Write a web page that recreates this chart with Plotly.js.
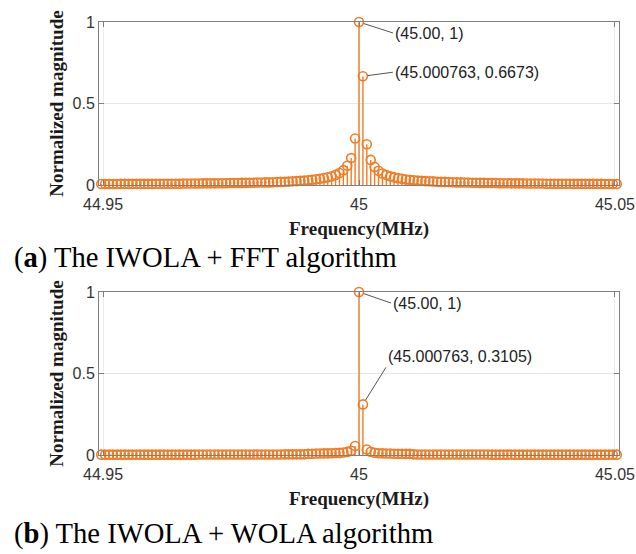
<!DOCTYPE html>
<html>
<head>
<meta charset="utf-8">
<script src="https://cdn.plot.ly/plotly-3.0.1.min.js"></script>
<style>
  html, body { margin: 0; padding: 0; background: #ffffff; }
  #chart { width: 636px; height: 554px; }
</style>
</head>
<body>
<div id="chart"></div>
<script>
// FFT bin grid: centre frequency and bin spacing (MHz)
const centreFreq = 45.0;
const binStep = 0.000763;
const binLo = -66;
const binHi = 66;

// Normalized magnitude of each bin, lowest bin first (IWOLA + FFT)
const magFFT = [
  0.006, 0.006, 0.006, 0.006, 0.006, 0.007, 0.007, 0.007, 0.007, 0.007,
  0.007, 0.007, 0.007, 0.007, 0.008, 0.008, 0.008, 0.008, 0.008, 0.008,
  0.008, 0.009, 0.009, 0.009, 0.009, 0.009, 0.010, 0.010, 0.010, 0.010,
  0.011, 0.011, 0.011, 0.012, 0.012, 0.012, 0.013, 0.013, 0.014, 0.014,
  0.015, 0.015, 0.016, 0.016, 0.017, 0.018, 0.019, 0.020, 0.021, 0.023,
  0.024, 0.026, 0.027, 0.029, 0.032, 0.035, 0.038, 0.043, 0.048, 0.054,
  0.062, 0.074, 0.091, 0.118, 0.165, 0.285,
  1,
  0.6673, 0.250, 0.154, 0.111, 0.087, 0.071, 0.061, 0.053, 0.047, 0.042,
  0.038, 0.034, 0.032, 0.029, 0.027, 0.026, 0.024, 0.023, 0.022, 0.020,
  0.019, 0.019, 0.018, 0.017, 0.016, 0.016, 0.015, 0.015, 0.014, 0.014,
  0.013, 0.013, 0.012, 0.012, 0.012, 0.011, 0.011, 0.011, 0.010, 0.010,
  0.010, 0.010, 0.009, 0.009, 0.009, 0.009, 0.009, 0.008, 0.008, 0.008,
  0.008, 0.008, 0.008, 0.008, 0.007, 0.007, 0.007, 0.007, 0.007, 0.007,
  0.007, 0.007, 0.006, 0.006, 0.006, 0.006
];

// Normalized magnitude of each bin, lowest bin first (IWOLA + WOLA)
const magWOLA = [
  0.002, 0.002, 0.002, 0.002, 0.002, 0.002, 0.002, 0.002, 0.002, 0.002,
  0.002, 0.002, 0.002, 0.002, 0.002, 0.002, 0.002, 0.002, 0.002, 0.002,
  0.002, 0.002, 0.002, 0.002, 0.002, 0.003, 0.003, 0.003, 0.003, 0.003,
  0.003, 0.003, 0.003, 0.003, 0.003, 0.003, 0.003, 0.003, 0.003, 0.003,
  0.003, 0.003, 0.003, 0.003, 0.003, 0.003, 0.003, 0.004, 0.004, 0.004,
  0.004, 0.004, 0.004, 0.008, 0.008, 0.009, 0.009, 0.010, 0.010, 0.011,
  0.012, 0.013, 0.015, 0.019, 0.026, 0.055,
  1,
  0.3105, 0.034, 0.020, 0.014, 0.011, 0.010, 0.009, 0.009, 0.008, 0.008,
  0.008, 0.007, 0.007, 0.004, 0.003, 0.003, 0.003, 0.003, 0.003, 0.003,
  0.003, 0.003, 0.003, 0.003, 0.003, 0.003, 0.003, 0.003, 0.003, 0.003,
  0.003, 0.003, 0.003, 0.002, 0.002, 0.002, 0.002, 0.002, 0.002, 0.002,
  0.002, 0.002, 0.002, 0.002, 0.002, 0.002, 0.002, 0.002, 0.002, 0.002,
  0.002, 0.002, 0.002, 0.002, 0.002, 0.002, 0.002, 0.002, 0.002, 0.002,
  0.002, 0.002, 0.002, 0.002, 0.002, 0.002
];

// Axis ticks
const xTickVals = [44.95, 45, 45.05];
const xTickText = ['44.95', '45', '45.05'];
const yTickVals = [0, 0.5, 1];
const yTickText = ['0', '0.5', '1'];

// Panel captions
const captionA = '(<b>a</b>) The IWOLA + FFT algorithm';
const captionB = '(<b>b</b>) The IWOLA + WOLA algorithm';

// Frequency of every bin
const freq = [];
for (let k = binLo; k <= binHi; k++) {
  freq.push(+(centreFreq + k * binStep).toFixed(6));
}
const peakIdx = -binLo;        // bin at the centre frequency
const nextIdx = peakIdx + 1;   // first bin above it

const stemColor = '#f07c24';
const W = 636, H = 554;

// Vertical stems from zero to each magnitude, plus open circles at the tips
function stemTraces(mag, xa, ya) {
  const sx = [], sy = [];
  freq.forEach((f, i) => { sx.push(f, f, null); sy.push(0, mag[i], null); });
  return [
    { type: 'scatter', mode: 'lines', x: sx, y: sy, xaxis: xa, yaxis: ya,
      line: { color: stemColor, width: 1.4 }, hoverinfo: 'skip', cliponaxis: false },
    { type: 'scatter', mode: 'markers', x: freq, y: mag, xaxis: xa, yaxis: ya,
      marker: { symbol: 'circle-open', size: 9, color: stemColor, line: { width: 1.6, color: stemColor } },
      cliponaxis: false }
  ];
}

const tickFont = { family: 'Liberation Sans, Arial, sans-serif', size: 16, color: '#333333' };
const titleFont = { family: 'Liberation Serif, Times New Roman, serif', size: 19, color: '#1a1a1a' };

function xAxis(anchor) {
  return {
    domain: [99 / W, 619 / W], anchor: anchor,
    range: [44.9492, 45.0508],
    tickvals: xTickVals, ticktext: xTickText, tickfont: tickFont,
    ticks: 'inside', ticklen: 5, tickcolor: '#7f7f7f', ticklabelstandoff: 5,
    showline: true, linecolor: '#7f7f7f', linewidth: 1, mirror: 'ticks',
    showgrid: true, gridcolor: '#ebebeb', zeroline: false,
    title: { text: '<b>Frequency(MHz)</b>', font: titleFont, standoff: 9 }
  };
}
function yAxis(anchor, top, bottom) {
  return {
    domain: [1 - bottom / H, 1 - top / H], anchor: anchor,
    range: [0, 1],
    tickvals: yTickVals, ticktext: yTickText, tickfont: tickFont,
    ticks: 'inside', ticklen: 5, tickcolor: '#7f7f7f',
    showline: true, linecolor: '#7f7f7f', linewidth: 1, mirror: 'ticks',
    showgrid: true, gridcolor: '#e6e6e6', zeroline: false,
    title: { text: '<b>Normalized magnitude</b>', font: titleFont, standoff: 3 }
  };
}

// Data-point label with a leader line to the marked bin
const labelFont = { family: 'Liberation Sans, Arial, sans-serif', size: 16, color: '#222222' };
function pointLabel(xref, yref, mag, idx, xDigits, ax, ay, yanchor) {
  const fx = freq[idx], fy = mag[idx];
  return {
    xref: xref, yref: yref, x: fx, y: fy,
    text: '(' + fx.toFixed(xDigits) + ', ' + fy + ')',
    font: labelFont, showarrow: true, arrowhead: 0, arrowwidth: 1,
    arrowcolor: '#555555', ax: ax, ay: ay, standoff: 5,
    xanchor: 'left', yanchor: yanchor
  };
}

const captionFont = { family: 'Liberation Serif, Times New Roman, serif', size: 28.6, color: '#000000' };

const data = [].concat(
  stemTraces(magFFT, 'x', 'y'),
  stemTraces(magWOLA, 'x2', 'y2')
);

const layout = {
  width: W, height: H,
  margin: { l: 0, r: 0, t: 0, b: 0 },
  paper_bgcolor: '#ffffff', plot_bgcolor: '#ffffff',
  showlegend: false,
  xaxis: xAxis('y'),
  yaxis: yAxis('x', 22, 185),
  xaxis2: xAxis('y2'),
  yaxis2: yAxis('x2', 292, 455),
  annotations: [
    pointLabel('x', 'y', magFFT, peakIdx, 2, 34, 11, 'middle'),
    pointLabel('x', 'y', magFFT, nextIdx, 6, 30, -4, 'middle'),
    pointLabel('x2', 'y2', magWOLA, peakIdx, 2, 32, 11, 'middle'),
    pointLabel('x2', 'y2', magWOLA, nextIdx, 6, 23, -37, 'bottom'),
    { xref: 'paper', yref: 'paper', x: 12 / W, y: 1 - 258 / H, xanchor: 'left', yanchor: 'middle',
      text: captionA, font: captionFont, showarrow: false },
    { xref: 'paper', yref: 'paper', x: 12 / W, y: 1 - 534 / H, xanchor: 'left', yanchor: 'middle',
      text: captionB, font: captionFont, showarrow: false }
  ]
};

Plotly.newPlot('chart', data, layout, { staticPlot: true, displayModeBar: false });
</script>
</body>
</html>
